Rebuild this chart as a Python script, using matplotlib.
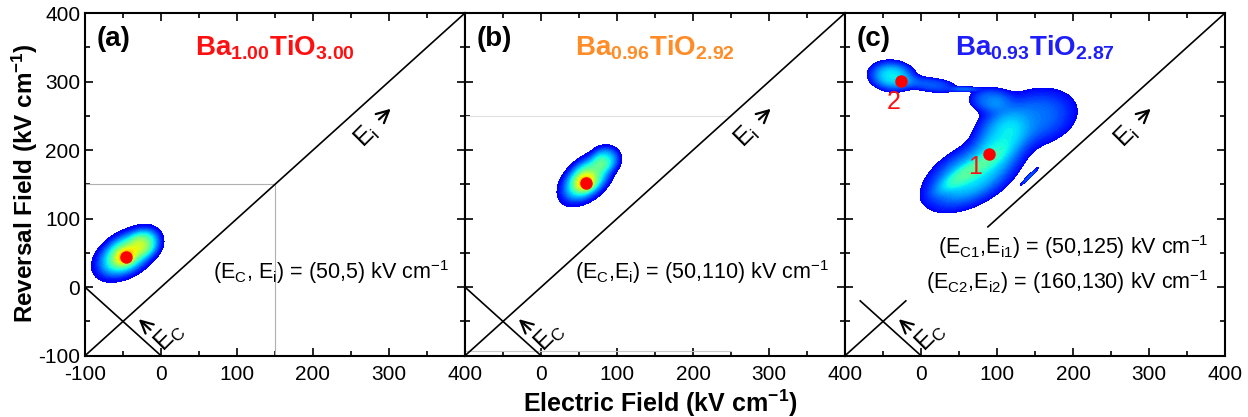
import numpy as np
import matplotlib
matplotlib.use('Agg')
import matplotlib.pyplot as plt

plt.rcParams['font.family'] = ['Liberation Sans', 'DejaVu Sans']
plt.rcParams['mathtext.default'] = 'regular'
plt.rcParams['axes.unicode_minus'] = False

# panel labels, compositions and colours
panel_tags = ['(a)', '(b)', '(c)']
titles = [r'Ba$_{1.00}$TiO$_{3.00}$', r'Ba$_{0.96}$TiO$_{2.92}$', r'Ba$_{0.93}$TiO$_{2.87}$']
title_colors = ['#ff1010', '#ff8c26', '#1e1efa']

# FORC peak components per panel: centre x, centre y, sigma along, sigma across, angle (deg), amplitude
peaks_a = [(-46, 48, 30, 19, 38, 1.0), (-20, 66, 15, 14, 70, 0.45), (-47, 45, 12, 9, 38, 0.45)]
peaks_b = [(60, 158, 28, 17, 48, 1.0), (86, 188, 13, 13, 75, 0.45), (58, 153, 11, 9, 45, 0.45)]
peaks_c = [(66, 163, 48, 27, 34, 1.0), (150, 248, 42, 30, 18, 0.6), (105, 220, 30, 25, 70, 0.6),
           (90, 274, 20, 13, 0, 0.55), (-38, 308, 21, 15, -8, 1.0), (15, 295, 25, 8, -8, 0.5),
           (58, 289, 13, 2.5, 0, 0.45), (143, 162, 14, 1.5, 48, 0.45), (62, 168, 36, 8, 34, 0.35)]
peaks = [peaks_a, peaks_b, peaks_c]
shape_power = [1.4, 1.4, 1.3]
# contour threshold, jet index at edge, jet index at peak
thresholds = [0.1, 0.1, 0.2]
edge_idx = [0.10, 0.10, 0.12]
peak_idx = [0.72, 0.72, 0.46]

# marked maxima and labels
dots_x = [[-46], [59], [-27, 89]]
dots_y = [[44], [152], [301, 194]]
dot_labels = [[], [], ['2', '1']]
dot_label_x = [[], [], [-36, 71]]
dot_label_y = [[], [], [270, 176]]

notes = [[r'(E$_C$, E$_i$) = (50,5) kV cm$^{-1}$'],
         [r'(E$_C$,E$_i$) = (50,110) kV cm$^{-1}$'],
         [r'(E$_{C1}$,E$_{i1}$) = (50,125) kV cm$^{-1}$', r'(E$_{C2}$,E$_{i2}$) = (160,130) kV cm$^{-1}$']]
notes_y = [[22], [22], [59, 7]]

xg, yg = np.meshgrid(np.arange(-100, 401, 1.0), np.arange(-100, 401, 1.0))

fig = plt.figure(figsize=(12.48, 4.17), dpi=100)
lefts = [0.0681, 0.3726, 0.6771]
for i in range(3):
    ax = fig.add_axes([lefts[i], 0.147, 0.3045, 0.8218])

    # distribution
    z = np.zeros_like(xg)
    for cx, cy, su, sv, ang, amp in peaks[i]:
        t = np.deg2rad(ang)
        u = (xg - cx) * np.cos(t) + (yg - cy) * np.sin(t)
        v = -(xg - cx) * np.sin(t) + (yg - cy) * np.cos(t)
        q = u**2 / su**2 + v**2 / sv**2
        z += amp * np.exp(-0.5 * q**shape_power[i])
    th = thresholds[i]
    zmax = z.max()
    b = (peak_idx[i] - edge_idx[i]) / (zmax - th)
    a = edge_idx[i] - b * th
    ax.contourf(xg, yg, z, levels=np.linspace(th, zmax, 40), cmap='jet', vmin=-a / b, vmax=(1 - a) / b)
    ax.plot(dots_x[i], dots_y[i], 'o', color='#ff0000', ms=9, mec='none')
    for lab, lx, ly in zip(dot_labels[i], dot_label_x[i], dot_label_y[i]):
        ax.text(lx, ly, lab, color='#ff1010', fontsize=18, ha='center', va='center')

    # guide lines
    if i == 0:
        ax.plot([150, 150], [-100, 150], color='#b0b0b0', lw=0.8)
        ax.plot([-100, 150], [150, 150], color='#b0b0b0', lw=0.8)
    if i == 1:
        ax.plot([-100, 250], [250, 250], color='#e0e0e0', lw=0.8)
        ax.plot([-100, 250], [-93, -93], color='#c8c8c8', lw=0.8)
    if i < 2:
        ax.plot([-100, 400], [-100, 400], color='k', lw=1.2)
        ax.plot([-100, 0], [0, -100], color='k', lw=1.2)
    else:
        ax.plot([-100, -20], [-100, -20], color='k', lw=1.2)
        ax.plot([88, 400], [88, 400], color='k', lw=1.2)
        ax.plot([-80, 0], [-20, -100], color='k', lw=1.2)

    # axis direction labels
    ax.annotate('', xy=(305, 263), xytext=(284, 242),
                arrowprops=dict(arrowstyle='->', color='k', lw=1.6, mutation_scale=22))
    ax.text(270, 221, r'E$_i$', rotation=45, fontsize=18, ha='center', va='center')
    ax.annotate('', xy=(-32, -44), xytext=(-11, -65),
                arrowprops=dict(arrowstyle='->', color='k', lw=1.6, mutation_scale=22))
    ax.text(12, -73, r'E$_C$', rotation=45, fontsize=18, ha='center', va='center')

    for note, ny in zip(notes[i], notes_y[i]):
        ax.text(378, ny, note, fontsize=15.5, ha='right', va='center')

    ax.text(0.031, 0.925, panel_tags[i], transform=ax.transAxes, fontsize=20,
            fontweight='bold', ha='left', va='center')
    ax.text(0.5, 0.9, titles[i], transform=ax.transAxes, fontsize=20,
            fontweight='bold', color=title_colors[i], ha='center', va='center')

    ax.set_xlim(-100, 400)
    ax.set_ylim(-100, 400)
    ax.set_xticks(np.arange(-100, 401, 100))
    ax.set_yticks(np.arange(-100, 401, 100))
    ax.set_xticks(np.arange(-50, 400, 50), minor=True)
    ax.set_yticks(np.arange(-50, 400, 50), minor=True)
    ax.tick_params(which='both', direction='in', top=True, right=True, labelsize=15, width=1.2)
    ax.tick_params(which='major', length=6)
    ax.tick_params(which='minor', length=3.5)
    ax.tick_params(axis='x', which='major', pad=7)
    if i > 0:
        ax.set_yticklabels([])
        ax.set_xticklabels([''] + [str(v) for v in range(0, 401, 100)])
    for sp in ax.spines.values():
        sp.set_linewidth(1.5)

fig.text(0.02, 0.56, r'Reversal Field (kV cm$^{-1}$)', rotation=90, fontsize=17.5,
         fontweight='bold', ha='center', va='center')
fig.text(0.529, 0.033, r'Electric Field (kV cm$^{-1}$)', fontsize=18,
         fontweight='bold', ha='center', va='center')

fig.savefig('out.png', dpi=100)
